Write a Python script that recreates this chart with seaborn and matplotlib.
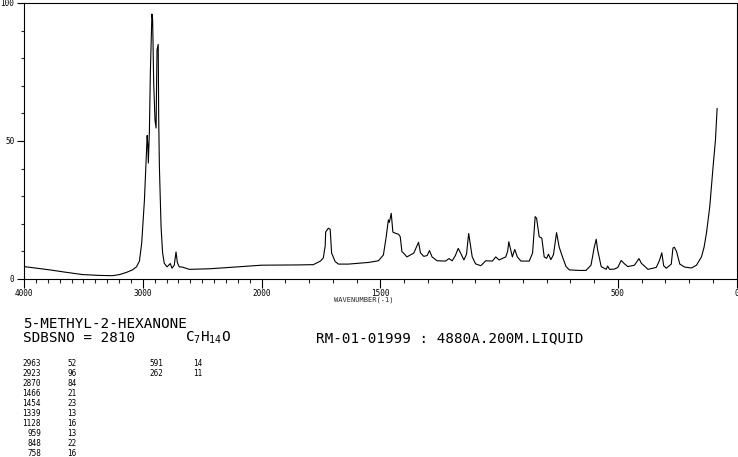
import numpy as np
import pandas as pd
import matplotlib
matplotlib.use("Agg")
import matplotlib.pyplot as plt
import seaborn as sns
from matplotlib.ticker import FixedLocator, NullFormatter

# ---------------- data ----------------
wavenumber = [4000, 3908, 3782, 3657, 3506, 3364, 3255, 3196, 3137, 3087,
              3053, 3028, 3009, 2986, 2972, 2963, 2958, 2953, 2944, 2936,
              2923, 2917, 2908, 2897, 2888, 2880, 2870, 2866, 2860, 2846,
              2833, 2819, 2796, 2768, 2754, 2735, 2720, 2709, 2693, 2665,
              2609, 2441, 2300, 2106, 2000, 1845, 1782, 1752, 1740, 1732,
              1730, 1719, 1711, 1705, 1690, 1676, 1634, 1592, 1550, 1508,
              1487, 1476, 1466, 1462, 1454, 1447, 1437, 1423, 1416, 1409,
              1402, 1388, 1359, 1351, 1339, 1331, 1317, 1303, 1293, 1282,
              1261, 1225, 1211, 1197, 1184, 1172, 1162, 1148, 1137, 1128,
              1113, 1099, 1077, 1056, 1028, 1014, 1000, 972, 964, 959,
              944, 934, 923, 908, 873, 859, 848, 842, 831, 820,
              810, 800, 792, 782, 771, 758, 747, 733, 718, 704,
              662, 634, 613, 599, 591, 585, 570, 549, 543, 535,
              514, 500, 486, 472, 458, 430, 411, 401, 373, 338,
              324, 315, 307, 296, 275, 268, 262, 253, 239, 218,
              190, 169, 148, 137, 127, 113, 99, 89, 82]
intensity = [4.5, 4.0, 3.3, 2.5, 1.6, 1.3, 1.2, 1.6, 2.4, 3.3,
             4.4, 6.5, 13, 28.6, 43, 52, 49, 42, 54, 75,
             96, 94, 71, 57.6, 54.7, 83, 85, 58.7, 40.6, 19,
             9.4, 5.7, 4.4, 5.6, 3.9, 5.0, 9.8, 6.0, 4.4, 4.3,
             3.5, 3.7, 4.1, 4.7, 5.0, 5.1, 5.2, 6.5, 7.6, 12,
             17, 18.4, 18, 9.4, 6.3, 5.4, 5.4, 5.7, 6.0, 6.6,
             8.7, 14.8, 21.4, 20.5, 23.8, 17, 16.6, 16.2, 15.3, 9.9,
             9.4, 8.0, 9.4, 11, 13.3, 9.5, 8.2, 8.5, 10.3, 8.0,
             6.6, 6.5, 7.4, 6.6, 8.5, 11.1, 9.4, 6.9, 9.0, 16.5,
             8.0, 5.5, 4.8, 6.6, 6.5, 8.0, 6.9, 8.0, 10, 13.5,
             8.0, 10.7, 8.0, 6.5, 6.5, 9.4, 22.6, 22, 15.3, 14.8,
             8.0, 7.5, 9.0, 7.0, 8.8, 16.8, 11.6, 8.0, 4.5, 3.3,
             3.1, 3.1, 5.0, 11.6, 14.4, 10.5, 4.5, 3.5, 4.7, 3.5,
             3.6, 4.2, 6.7, 5.5, 4.5, 5.0, 7.4, 5.7, 3.5, 4.2,
             6.9, 9.5, 4.8, 3.9, 5.4, 11.2, 11.5, 10, 5.4, 4.3,
             4.0, 5.0, 8.0, 11.5, 16.6, 26.2, 40.7, 50.4, 61.8]

peak_wn = [2963, 2923, 2870, 1466, 1454, 1339, 1128, 959, 848, 758, 591, 262]
peak_int = [52, 96, 84, 21, 23, 13, 16, 13, 22, 16, 14, 11]

x_major = [4000, 3000, 2000, 1500, 500, 0]
x_major_labels = ["4000", "3000", "2000", "1500", "500", "0"]
y_major = [0, 50, 100]
y_major_labels = ["0", "50", "100"]

compound = "5-METHYL-2-HEXANONE"
sdbs_no = "SDBSNO = 2810"
formula = "C$_7$H$_{14}$O"
conditions = "RM-01-01999 : 4880A.200M.LIQUID"
x_label = "WAVENUMBER(-1)"

# ---------------- style ----------------
sns.set_style("ticks")
plt.rcParams["font.family"] = ["DejaVu Sans Mono", "DejaVu Sans"]
plt.rcParams["mathtext.default"] = "regular"

W, H = 738, 457
fig = plt.figure(figsize=(W / 100, H / 100), dpi=100)
fig.patch.set_facecolor("white")

ax_l, ax_r, ax_t, ax_b = 24, 736.6, 3, 279
ax = fig.add_axes([ax_l / W, 1 - ax_b / H, (ax_r - ax_l) / W, (ax_b - ax_t) / H])
ax.set_facecolor("white")

df = pd.DataFrame({"wavenumber": wavenumber, "intensity": intensity})
sns.lineplot(data=df, x="wavenumber", y="intensity", ax=ax, color="black",
             linewidth=0.8, sort=False, estimator=None)


def fwd(w):
    w = np.asarray(w, dtype=float)
    return np.where(w >= 2000, w, 2 * w - 2000)


def inv(u):
    u = np.asarray(u, dtype=float)
    return np.where(u >= 2000, u, (u + 2000) / 2)


ax.set_xscale("function", functions=(fwd, inv))
ax.set_xlim(4000, 0)
ax.set_ylim(0, 100)

ax.xaxis.set_major_locator(FixedLocator(x_major))
ax.set_xticklabels(x_major_labels)
ax.xaxis.set_minor_locator(FixedLocator(list(range(0, 4001, 100))))
ax.xaxis.set_minor_formatter(NullFormatter())
ax.yaxis.set_major_locator(FixedLocator(y_major))
ax.set_yticklabels(y_major_labels)
ax.yaxis.set_minor_locator(FixedLocator(list(range(0, 101, 10))))
ax.yaxis.set_minor_formatter(NullFormatter())

ax.tick_params(axis="x", which="major", direction="out", length=6.2, width=0.8,
               pad=1, labelsize=5.5, colors="black")
ax.tick_params(axis="x", which="minor", direction="out", length=3, width=0.8)
ax.tick_params(axis="y", which="major", direction="out", length=5, width=0.8,
               pad=2, labelsize=5.5, colors="black")
ax.tick_params(axis="y", which="minor", direction="out", length=2.2, width=0.8)

for s in ax.spines.values():
    s.set_visible(True)
    s.set_color("black")
    s.set_linewidth(0.8)

ax.set_xlabel(x_label, fontsize=5, x=(364 - ax_l) / (ax_r - ax_l), labelpad=-1)
ax.set_ylabel("")


def ftext(px, py, s, **kw):
    fig.text(px / W, 1 - py / H, s, va="baseline", color="black", **kw)


ftext(23, 328.5, compound, fontsize=10.3)
ftext(23, 342, sdbs_no, fontsize=10.3)
ftext(185, 342, formula, fontsize=10.3)
ftext(316, 342, conditions, fontsize=10.3)

row0, dy = 366, 10.0
for i, (w, v) in enumerate(zip(peak_wn, peak_int)):
    col = i // 10
    r = i % 10
    y = row0 + r * dy
    xw = 41 if col == 0 else 163
    xi = 67 if col == 0 else 193
    ftext(xw, y, str(w), fontsize=5.5, ha="right")
    ftext(xi, y, str(v), fontsize=5.5, ha="left")

fig.savefig("out.png", dpi=100, facecolor="white")
